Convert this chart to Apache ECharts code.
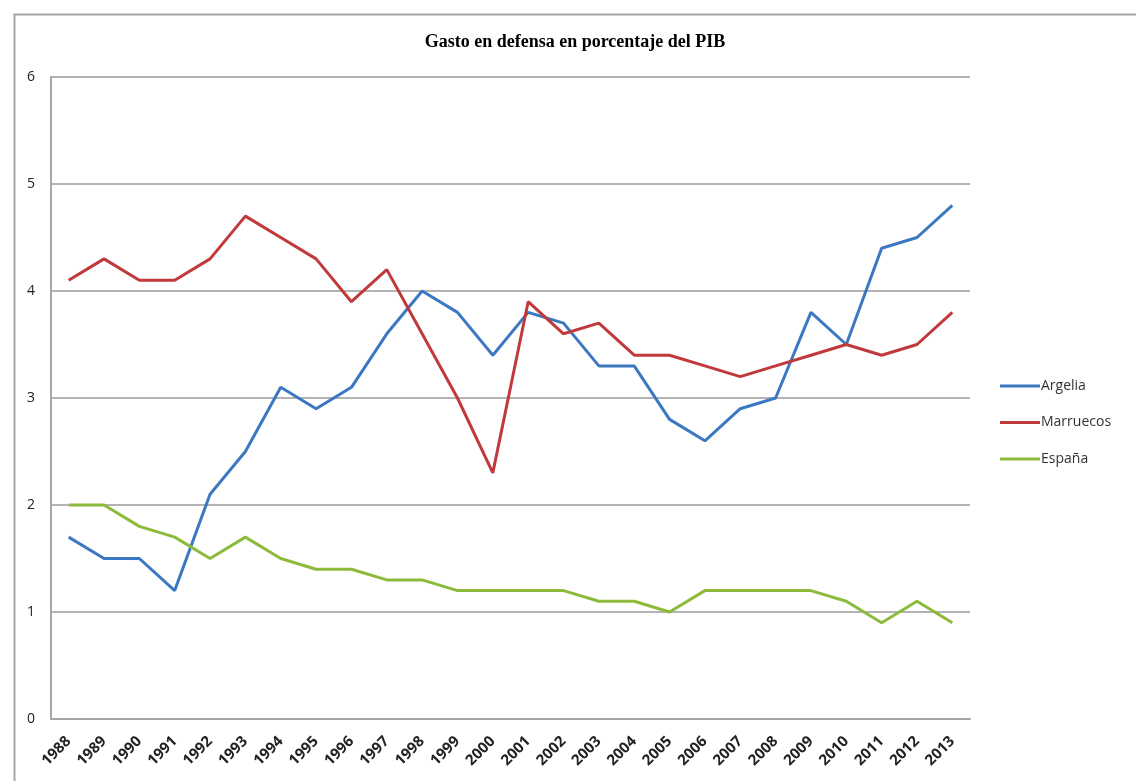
<!DOCTYPE html>
<html>
<head>
<meta charset="utf-8">
<script src="https://cdn.jsdelivr.net/npm/echarts@6/dist/echarts.min.js"></script>
<style>
html,body{margin:0;padding:0;background:#fff;}
#chart{width:1136px;height:781px;}
</style>
</head>
<body>
<div id="chart"></div>
<script>
const years = ['1988','1989','1990','1991','1992','1993','1994','1995','1996','1997','1998','1999','2000','2001','2002','2003','2004','2005','2006','2007','2008','2009','2010','2011','2012','2013'];
const argelia = [1.7,1.5,1.5,1.2,2.1,2.5,3.1,2.9,3.1,3.6,4.0,3.8,3.4,3.8,3.7,3.3,3.3,2.8,2.6,2.9,3.0,3.8,3.5,4.4,4.5,4.8];
const marruecos = [4.1,4.3,4.1,4.1,4.3,4.7,4.5,4.3,3.9,4.2,3.6,3.0,2.3,3.9,3.6,3.7,3.4,3.4,3.3,3.2,3.3,3.4,3.5,3.4,3.5,3.8];
const espana = [2.0,2.0,1.8,1.7,1.5,1.7,1.5,1.4,1.4,1.3,1.3,1.2,1.2,1.2,1.2,1.1,1.1,1.0,1.2,1.2,1.2,1.2,1.1,0.9,1.1,0.9];
const titleText = 'Gasto en defensa en porcentaje del PIB';

const chart = echarts.init(document.getElementById('chart'));
const mk = (name, data, color) => ({
  name, type: 'line', data, symbol: 'none', smooth: false,
  lineStyle: { color, width: 3 }, itemStyle: { color },
  emphasis: { disabled: true }
});
chart.setOption({
  animation: false,
  backgroundColor: '#fff',
  title: {
    text: titleText, left: 570, top: 28, textAlign: 'center',
    textStyle: { fontFamily: 'Liberation Serif', fontWeight: 'bold', fontSize: 18, color: '#000' }
  },
  graphic: [{
    type: 'rect', left: 12, top: 12, shape: { width: 1200, height: 900 },
    style: { fill: 'none', stroke: '#a6a6a6', lineWidth: 2 }, silent: true, z: -1
  }],
  legend: {
    orient: 'vertical', left: 995, top: 374, itemWidth: 40, itemHeight: 14, itemGap: 22.5,
    icon: 'path://M0,6 L40,6 L40,9 L0,9 Z',
    textStyle: { fontFamily: 'Open Sans', fontSize: 14, color: '#333', padding: [0,0,0,-4] },
    data: ['Argelia','Marruecos','España']
  },
  grid: { left: 51, right: 166, top: 77, bottom: 62, containLabel: false },
  xAxis: {
    type: 'category', data: years, boundaryGap: true,
    axisLine: { lineStyle: { color: '#a6a6a6', width: 2 } },
    axisTick: { show: false },
    axisLabel: { rotate: 45, interval: 0, margin: 20, fontFamily: 'Open Sans', fontSize: 15, fontWeight: 'bold', color: '#222' }
  },
  yAxis: {
    type: 'value', min: 0, max: 6, interval: 1,
    axisLine: { show: true, lineStyle: { color: '#a6a6a6', width: 2 } },
    axisTick: { show: false },
    splitLine: { lineStyle: { color: '#b3b3b3', width: 2 } },
    axisLabel: { margin: 16, fontFamily: 'Open Sans', fontSize: 14, color: '#222' }
  },
  series: [
    mk('Argelia', argelia, '#3c78c2'),
    mk('Marruecos', marruecos, '#c0393b'),
    mk('España', espana, '#8cbb3c')
  ]
});
</script>
</body>
</html>
